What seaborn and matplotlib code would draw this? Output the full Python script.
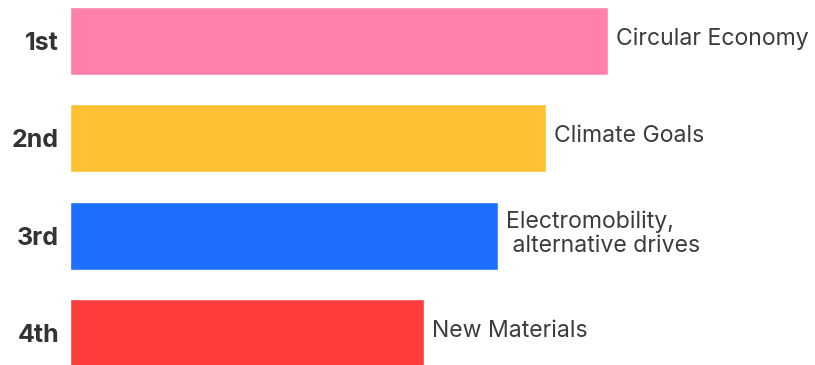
import matplotlib
matplotlib.use("Agg")
import matplotlib.pyplot as plt
import seaborn as sns
import pandas as pd

ranks = ["1st", "2nd", "3rd", "4th"]
topics = ["Circular Economy", "Climate Goals", "Electromobility,\n alternative drives", "New Materials"]
scores = [538, 476, 428, 354]
colors = ["#FF80AA", "#FDC133", "#1E6EFF", "#FF3D3D"]

df = pd.DataFrame({"rank": ranks, "topic": topics, "score": scores})

sns.set_theme(style="white")
plt.rcParams["font.family"] = ["Inter", "DejaVu Sans"]

fig = plt.figure(figsize=(8.15, 3.65), dpi=100)
ax = fig.add_axes([70 / 815, 0, 745 / 815, 1])

sns.barplot(data=df, x="score", y="rank", hue="rank", palette=colors,
            orient="h", width=0.7, legend=False, ax=ax, saturation=1)

for i, row in df.iterrows():
    ax.text(row["score"] + 8, i - 0.02, row["topic"], va="center", ha="left",
            fontsize=16.6, color="#3c3c3c", linespacing=1.15)

ax.set_xlim(0, 745)
ax.set_ylim(3.33, -0.423)
ax.set_xlabel("")
ax.set_ylabel("")
ax.set_xticks([])
ax.tick_params(axis="y", length=0, pad=8)
for lbl in ax.get_yticklabels():
    lbl.set_fontsize(18)
    lbl.set_fontweight("bold")
    lbl.set_color("#333333")
sns.despine(ax=ax, left=True, bottom=True)

fig.savefig("out.png", dpi=100, facecolor="white")
